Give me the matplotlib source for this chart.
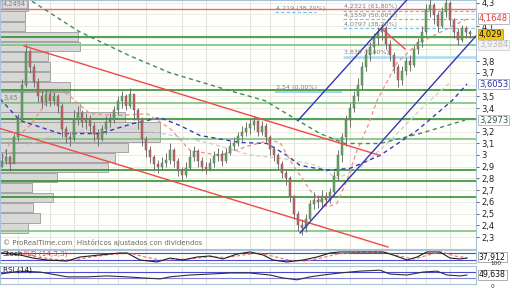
import numpy as np
import matplotlib
matplotlib.use("Agg")
import matplotlib.pyplot as plt
from matplotlib.ticker import FuncFormatter

# ---- price candles (open = previous close) ----
first_open = 2.90
closes = [2.95, 2.98, 2.92, 3.15, 3.30, 3.60, 3.88, 3.75, 3.62, 3.50,
          3.45, 3.52, 3.46, 3.50, 3.42, 3.22, 3.15, 3.14, 3.30, 3.36,
          3.28, 3.31, 3.25, 3.18, 3.14, 3.22, 3.28, 3.30, 3.38, 3.46,
          3.50, 3.42, 3.52, 3.38, 3.30, 3.14, 3.04, 2.98, 2.92, 2.90,
          2.93, 2.96, 3.04, 2.95, 2.86, 2.83, 2.89, 2.98, 3.03, 2.95,
          2.90, 2.88, 2.93, 2.99, 3.01, 2.95, 3.02, 3.08, 3.10, 3.16,
          3.20, 3.23, 3.26, 3.29, 3.20, 3.25, 3.15, 3.05, 3.00, 2.92,
          2.85, 2.80, 2.65, 2.50, 2.40, 2.38, 2.45, 2.58, 2.62, 2.60,
          2.65, 2.62, 2.68, 2.82, 3.00, 3.15, 3.30, 3.40, 3.50, 3.60,
          3.75, 3.85, 3.92, 4.00, 4.05, 4.08, 3.95, 3.85, 3.75, 3.64,
          3.72, 3.80, 3.77, 3.90, 3.96, 4.05, 4.24, 4.28, 4.19, 4.10,
          4.22, 4.30, 4.15, 4.05, 3.98, 4.08, 4.05, 4.029]
highs = [3.02, 3.05, 3.00, 3.18, 3.35, 3.65, 3.95, 3.90, 3.78, 3.66,
         3.55, 3.56, 3.55, 3.54, 3.52, 3.44, 3.25, 3.20, 3.38, 3.42,
         3.38, 3.36, 3.34, 3.28, 3.22, 3.26, 3.33, 3.36, 3.42, 3.50,
         3.55, 3.52, 3.57, 3.52, 3.40, 3.32, 3.16, 3.08, 3.00, 2.96,
         2.98, 3.02, 3.10, 3.06, 2.97, 2.90, 2.94, 3.04, 3.08, 3.05,
         2.98, 2.94, 2.97, 3.03, 3.06, 3.04, 3.06, 3.12, 3.15, 3.20,
         3.25, 3.28, 3.31, 3.33, 3.30, 3.29, 3.27, 3.17, 3.08, 3.02,
         2.95, 2.88, 2.82, 2.66, 2.52, 2.45, 2.50, 2.62, 2.68, 2.66,
         2.70, 2.68, 2.72, 2.86, 3.04, 3.19, 3.34, 3.44, 3.55, 3.66,
         3.79, 3.90, 3.96, 4.04, 4.09, 4.12, 4.10, 3.98, 3.88, 3.78,
         3.76, 3.84, 3.85, 3.94, 4.00, 4.10, 4.29, 4.33, 4.30, 4.22,
         4.26, 4.36, 4.31, 4.17, 4.08, 4.11, 4.10, 4.07]
lows = [2.90, 2.92, 2.86, 2.93, 3.12, 3.28, 3.58, 3.70, 3.58, 3.45,
        3.40, 3.42, 3.42, 3.43, 3.36, 3.15, 3.10, 3.08, 3.12, 3.26,
        3.24, 3.22, 3.20, 3.12, 3.08, 3.12, 3.18, 3.24, 3.27, 3.34,
        3.40, 3.38, 3.40, 3.30, 3.22, 3.08, 2.98, 2.93, 2.86, 2.85,
        2.87, 2.90, 2.92, 2.90, 2.82, 2.79, 2.81, 2.87, 2.95, 2.90,
        2.86, 2.84, 2.86, 2.90, 2.95, 2.91, 2.93, 3.00, 3.04, 3.08,
        3.12, 3.16, 3.18, 3.21, 3.16, 3.17, 3.10, 3.00, 2.95, 2.88,
        2.80, 2.74, 2.60, 2.45, 2.35, 2.32, 2.34, 2.44, 2.54, 2.55,
        2.56, 2.57, 2.59, 2.64, 2.78, 2.94, 3.08, 3.24, 3.37, 3.46,
        3.56, 3.72, 3.80, 3.86, 3.94, 3.98, 3.90, 3.80, 3.70, 3.58,
        3.60, 3.68, 3.72, 3.75, 3.86, 3.92, 4.02, 4.18, 4.12, 4.05,
        4.08, 4.18, 4.10, 4.00, 3.94, 3.96, 4.00, 4.00]

# ---- volume by price (relative) ----
vp_price = [4.270, 4.184, 4.098, 4.012, 3.926, 3.840, 3.754, 3.668, 3.582, 3.496,
            3.410, 3.324, 3.238, 3.152, 3.066, 2.979, 2.894, 2.808, 2.721, 2.636,
            2.550, 2.463, 2.378]
vp_volume = [28, 25, 25, 78, 80, 48, 50, 50, 70, 70,
             80, 125, 160, 160, 128, 115, 108, 57, 32, 53,
             33, 40, 28]

# ---- horizontal levels ----
support_dark = [4.007, 3.557, 3.310, 2.869, 2.776, 2.640]
support_light = [3.938, 3.446, 3.140, 2.350]
red_level = 4.245

# fibonacci retracements
fib_right = [4.2321, 4.1559, 4.0797]
fib_right_txt = ["4,2321 (61,80%)", "4,1559 (50,00%)", "4,0797 (38,20%)"]
fib_right_base = 3.839
fib_left_top = 4.219
fib_left_base = 3.54

# ---- trend lines (index, price) ----
red_upper = ([5.5, 94.5], [3.930, 2.996])
red_lower = ([-0.5, 96.5], [3.226, 2.215])
red_short = ([95.0, 100.75], [4.075, 3.905])
blue_upper = ([74.0, 101.5], [3.294, 4.334])
blue_lower = ([74.5, 118.5], [2.334, 4.015])

# ---- moving averages ----
ma_green_x = [7.5, 19, 32, 42, 57, 65.75, 74, 79.5, 85.75, 94.5, 104.5, 115.75]
ma_green_y = [4.312, 4.058, 3.845, 3.701, 3.548, 3.463, 3.294, 3.183, 3.098, 3.098, 3.183, 3.2973]
ma_navy_x = [-0.5, 4.5, 14.5, 24.5, 32.75, 39.5, 44.5, 49.5, 59.5, 66.25, 71.25,
             74.5, 81.25, 87, 94.5, 103.75, 112.5, 116.25]
ma_navy_y = [3.480, 3.294, 3.183, 3.183, 3.268, 3.319, 3.251, 3.166, 3.107, 3.098, 2.996,
             2.912, 2.869, 2.886, 2.996, 3.209, 3.463, 3.6053]
ma_pink_x = [0, 2, 7, 12, 13.75, 16.25, 22, 28.75, 36.25, 42, 47, 54.5, 62, 67, 69.5,
             72, 77, 81.25, 83.75, 86.25, 88.75, 91.5, 93.75, 98.75, 103.75, 111.25, 116.5]
ma_pink_y = [2.971, 3.107, 3.251, 3.489, 3.548, 3.523, 3.353, 3.336, 3.353, 3.226, 3.039,
             2.996, 3.081, 3.124, 3.107, 2.954, 2.699, 2.555, 2.589, 2.784, 3.039, 3.251,
             3.463, 3.786, 3.947, 4.075, 4.1648]
ma_grey_x = [-0.5, 14.5, 29.5, 42, 52, 62, 70.25, 78.75, 83.75, 89.5, 97, 105.25, 112]
ma_grey_y = [3.00, 3.19, 3.24, 3.17, 3.10, 3.00, 2.97, 2.91, 2.80, 2.89, 3.12, 3.41, 3.62]

# ---- oscillators ----
stoch_x = [-0.5, 4.5, 7.75, 11.25, 16.25, 19.5, 24.5, 29.5, 31.25, 34.5, 38.75, 42, 45.25,
           48.75, 52, 55.25, 58.75, 62, 65.25, 67.75, 71.25, 75.25, 78.75, 82, 84.5, 88.75,
           95.25, 97.75, 101.25, 103.75, 106.25, 109.5, 112, 114.5, 116.25]
stoch_k = [77, 62, 38, 23, 15, 46, 62, 77, 77, 23, 8, 38, 23, 46, 54, 31, 69, 85, 62, 23,
           8, 23, 46, 77, 85, 85, 85, 62, 23, 46, 85, 85, 38, 31, 37.912]
stoch_dx = [-0.5, 5.5, 9, 13, 18, 22, 27, 32, 36, 40, 44, 48, 52, 56, 60, 64, 68, 72, 76,
            80, 84, 90, 96, 99, 103, 107, 110, 113, 116.25]
stoch_d = [80, 68, 45, 28, 22, 45, 65, 75, 45, 20, 28, 35, 48, 42, 60, 78, 50, 20, 15,
           40, 70, 85, 82, 55, 30, 65, 85, 55, 40]
rsi_x = [-0.5, 4.5, 9.5, 13.75, 16.25, 21.25, 26.25, 31.25, 35.25, 39.5, 42, 47, 52, 57,
         62, 67, 70.25, 73.75, 77, 80.25, 84.5, 89.5, 94.5, 97, 101.25, 105.25, 108.75,
         111.25, 114.5, 116.25]
rsi_v = [56, 75, 69, 50, 38, 38, 44, 38, 31, 25, 38, 50, 56, 63, 63, 50, 31, 19, 38, 50,
         63, 75, 81, 56, 50, 69, 75, 50, 44, 49.638]

# price ticks not hidden behind the value boxes
price_ticks = [4.3, 4.1, 3.8, 3.7, 3.5, 3.4, 3.2, 3.1, 3.0, 2.9, 2.8, 2.7, 2.6, 2.5, 2.4, 2.3]


def fmt(v, pos=None):
    return ("%g" % round(v, 1)).replace(".", ",")


fig = plt.figure(figsize=(5.12, 2.88), dpi=100)
fig.patch.set_facecolor("white")
W = 476 / 512
ax = fig.add_axes([0, 1 - 249 / 288, W, 249 / 288])
ax_st = fig.add_axes([0, 1 - 263 / 288, W, 13 / 288])
ax_rsi = fig.add_axes([0, 1 - 284 / 288, W, 18 / 288])

sep = "#a9c1d9"
for a in (ax, ax_st, ax_rsi):
    a.set_xlim(-0.5, 118.5)
    a.set_facecolor("#fffffb")
    for s in a.spines.values():
        s.set_color(sep)
        s.set_linewidth(0.8)
    a.set_xticks([4, 12, 18, 24, 29, 36, 45, 51, 62, 67, 73, 81, 87, 95, 101, 106, 112])
    a.tick_params(axis="x", length=0, labelbottom=False)
    a.grid(axis="x", color="#e4e4dc", lw=0.8, zorder=0)

# ---- main panel ----
ax.set_ylim(2.198, 4.322)
ax.set_axisbelow(True)
ax.set_yticks(np.arange(2.3, 4.35, 0.1), minor=True)
ax.set_yticks(price_ticks)
ax.grid(axis="y", which="both", color="#e8e8e0", lw=0.6)
ax.yaxis.tick_right()
ax.yaxis.set_major_formatter(FuncFormatter(fmt))
ax.tick_params(axis="y", which="minor", length=0)
ax.tick_params(axis="y", length=2, width=0.6, color="#444444", pad=2,
               labelsize=6, labelcolor="#222222")

ax.barh(vp_price, np.array(vp_volume) / 4.0, left=-0.5, height=0.08,
        color="#d8d8d6", edgecolor="#a4a4a4", lw=0.7, zorder=1)

for lv in support_dark:
    ax.axhline(lv, color="#1f8a1f", lw=1.1, zorder=2)
for lv in support_light:
    ax.axhline(lv, color="#7cc47c", lw=1.2, zorder=2)
ax.axhline(red_level, color="#f06a6a", lw=1.0, zorder=2)

# fib levels
for lv, t in zip(fib_right, fib_right_txt):
    ax.hlines(lv, 85.25, 118.5, color="#6cc0ee", lw=0.8, ls=(0, (3, 2)), zorder=2)
    ax.text(85.5, lv + 0.012, t, fontsize=4.6, color="#808080", va="bottom", zorder=5)
ax.hlines(fib_right_base, 85.25, 118.5, color="#a9dcf4", lw=1.8, zorder=2)
ax.text(85.5, fib_right_base + 0.014, "3,839 (0,00%)", fontsize=4.6, color="#808080",
        va="bottom", zorder=5)
ax.hlines(fib_left_top, 68.25, 78.5, color="#6cc0ee", lw=0.8, ls=(0, (3, 2)), zorder=2)
ax.text(68.6, fib_left_top + 0.012, "4,219 (38,20%)", fontsize=4.6, color="#808080",
        va="bottom", zorder=5)
ax.hlines(fib_left_base, 68.25, 85.0, color="#8fd0f0", lw=1.2, zorder=2)
ax.text(68.6, fib_left_base + 0.012, "3,54 (0,00%)", fontsize=4.6, color="#808080",
        va="bottom", zorder=5)

# moving averages
ax.plot(ma_grey_x, ma_grey_y, color="#cfcfcf", lw=1.0, ls=(0, (3, 2)), zorder=2.5)
ax.plot(ma_green_x, ma_green_y, color="#3f8a5a", lw=1.0, ls=(0, (3, 2.5)), zorder=2.5)
ax.plot(ma_navy_x, ma_navy_y, color="#3a3ab4", lw=1.0, ls=(0, (3, 2.5)), zorder=2.5)
ax.plot(ma_pink_x, ma_pink_y, color="#f08a8a", lw=0.9, ls=(0, (3, 2.5)), zorder=2.5)

# candles
opens = [first_open] + closes[:-1]
idx = np.arange(len(closes))
o = np.array(opens)
c = np.array(closes)
up = c >= o
ax.vlines(idx, lows, highs, color="#707070", lw=0.7, zorder=3)
body = np.maximum(np.abs(c - o), 0.008)
ax.bar(idx, body, bottom=np.minimum(o, c), width=0.72,
       color=np.where(up, "#55b055", "#d05c5c"), edgecolor="#6a6a6a", lw=0.35, zorder=3.1)

# trend lines
for xs, ys in (red_upper, red_lower, red_short):
    ax.plot(xs, ys, color="#f04848", lw=1.0, zorder=4)
for xs, ys in (blue_upper, blue_lower):
    ax.plot(xs, ys, color="#3434b8", lw=1.0, zorder=4)

# labels inside the main panel
ax.text(0.2, 4.288, "4,2494", fontsize=4.8, color="#808080", va="center", zorder=6,
        bbox=dict(boxstyle="square,pad=0.15", fc="#dcdcdc", ec="#a0a0a0", lw=0.5))
ax.text(0.3, 3.49, "3,45", fontsize=4.8, color="#808080", va="center", zorder=6)
ax.text(0.006, 0.025, "\u00a9 ProRealTime.com  Históricos ajustados con dividendos",
        transform=ax.transAxes, fontsize=5, color="#6a6a6a", va="center", zorder=6)


# right side value boxes
def tag(a, y, s, tc, fc, ec, size=6):
    a.text(1.006, y, s, transform=a.get_yaxis_transform(), fontsize=size, color=tc,
           va="center", ha="left", clip_on=False, zorder=10,
           bbox=dict(boxstyle="square,pad=0.1", fc=fc, ec=ec, lw=0.6))


tag(ax, 4.1648, "4,1648", "#e23c3c", "white", "#b0b0b0")
tag(ax, 4.026, "4,029", "#111111", "#f2c418", "#c09a10")
tag(ax, 3.9384, "3,9384", "#b8b8b8", "#f4f4f4", "#d0d0d0")
tag(ax, 3.6053, "3,6053", "#2c2c9c", "white", "#a0a0c8")
tag(ax, 3.2973, "3,2973", "#355a45", "white", "#a8b8a8")

# ---- stochastic ----
ax_st.set_ylim(0, 100)
ax_st.set_yticks([])
ax_st.axhline(80, color="#4a4ad8", lw=0.8)
ax_st.axhline(20, color="#4a4ad8", lw=0.8)
ax_st.plot(stoch_dx, stoch_d, color="#f07070", lw=0.8, ls=(0, (3, 2)))
ax_st.plot(stoch_x, stoch_k, color="#202020", lw=0.8)
ax_st.text(0.006, 0.72, "Stoch", transform=ax_st.transAxes, fontsize=5.2, color="#111111",
           va="center")
ax_st.text(0.05, 0.72, "%D (14,3,3)", transform=ax_st.transAxes, fontsize=5.2,
           color="#e04444", va="center")
tag(ax_st, 45, "37,912", "#111111", "white", "#a0a0a0", 5.6)

# ---- RSI ----
ax_rsi.set_ylim(-8, 108)
ax_rsi.set_yticks([])
ax_rsi.axhline(70, color="#4a4ad8", lw=0.8)
ax_rsi.axhline(30, color="#8080e0", lw=0.8)
ax_rsi.plot(rsi_x, rsi_v, color="#303030", lw=0.8)
ax_rsi.text(0.006, 0.8, "RSI (14)", transform=ax_rsi.transAxes, fontsize=5.2,
            color="#111111", va="center")
ax_rsi.text(1.03, 1.0, "100", transform=ax_rsi.transAxes, fontsize=4.2,
            color="#333333", va="bottom", clip_on=False)
ax_rsi.text(1.03, 0.02, "0", transform=ax_rsi.transAxes, fontsize=4.2,
            color="#333333", va="top", clip_on=False)
tag(ax_rsi, 50, "49,638", "#111111", "white", "#a0a0a0", 5.6)

fig.savefig("out.png", dpi=100)
